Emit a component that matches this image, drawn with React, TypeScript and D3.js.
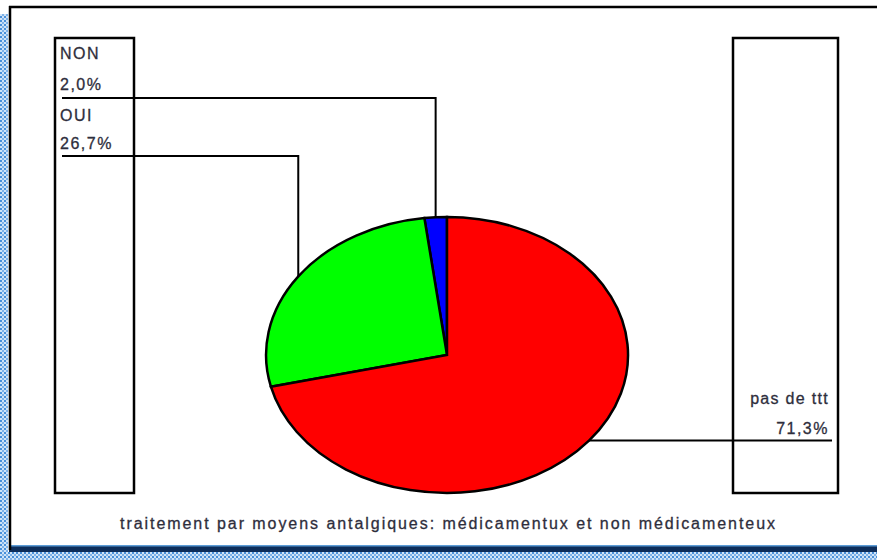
import * as d3 from 'd3';
import React from 'react';

// slice data, counter-clockwise from 12 o'clock
const labels = ['NON', 'OUI', 'pas de ttt'];
const values = [2.0, 26.7, 71.3];
const valueLabels = ['2,0%', '26,7%', '71,3%'];
const colors = ['#0000ff', '#00ff00', '#ff0000'];
const caption = 'traitement par moyens antalgiques: médicamentux et non médicamenteux';

const W = 877;
const H = 560;
const cx = 447;
const cy = 355;
const rx = 181;
const ry = 138;
const textColor = '#2e2e3c';

interface ISlice {
  label: string;
  value: number;
  text: string;
  color: string;
}

const slices: ISlice[] = labels.map((l, i) => ({ label: l, value: values[i], text: valueLabels[i], color: colors[i] }));

export default function App() {
  const pie = d3
    .pie<ISlice>()
    .sort(null)
    .value((d) => d.value)
    .startAngle(0)
    .endAngle(-2 * Math.PI);

  const arcs = pie(slices);
  const arc = d3.arc<d3.PieArcDatum<ISlice>>().innerRadius(0).outerRadius(1);

  // point on the ellipse at the middle of a slice
  const edge = (a: d3.PieArcDatum<ISlice>) => {
    const m = (a.startAngle + a.endAngle) / 2;
    return [cx + rx * Math.sin(m), cy - ry * Math.cos(m)];
  };

  const [nonX, nonY] = edge(arcs[0]);
  const [ouiX, ouiY] = edge(arcs[1]);
  const [redX, redY] = edge(arcs[2]);

  const font = {
    fontFamily: "'Liberation Sans', Arial, sans-serif",
    fontSize: 16,
    fill: textColor,
    stroke: textColor,
    strokeWidth: 0.3,
  };

  return (
    <svg width={W} height={H} style={{ position: 'absolute', left: 0, top: 0 }}>
      <defs>
        <pattern id="dots" width="4" height="4" patternUnits="userSpaceOnUse">
          <rect width="4" height="4" fill="#cfe3f7" />
          <rect width="2" height="2" fill="#4a90d9" />
          <rect x="2" y="2" width="2" height="2" fill="#7fb2e8" />
        </pattern>
      </defs>
      <rect width={W} height={H} fill="#fff" />
      {/* frame */}
      <rect x={0} y={14} width={8} height={H - 14} fill="url(#dots)" />
      <rect x={0} y={552} width={W} height={8} fill="url(#dots)" />
      <rect x={9} y={546} width={W - 9} height={6} fill="#0d2d5a" />
      <rect x={9} y={545} width={W - 9} height={1.5} fill="#5b9bd5" />
      <line x1={9} y1={7} x2={W} y2={7} stroke="#000" strokeWidth={2.5} />
      <line x1={10} y1={6} x2={10} y2={550} stroke="#000" strokeWidth={2.5} />

      {/* label boxes */}
      <rect x={55} y={38} width={79} height={455} fill="none" stroke="#000" strokeWidth={2.5} />
      <rect x={733} y={38} width={105} height={455} fill="none" stroke="#000" strokeWidth={2.5} />

      {/* pie */}
      <g transform={`translate(${cx},${cy}) scale(${rx},${ry})`}>
        {arcs.map((a, i) => (
          <path key={i} d={arc(a) as string} fill={a.data.color} stroke="#000" strokeWidth={2.5} vectorEffect="non-scaling-stroke" />
        ))}
      </g>

      {/* leader lines */}
      <polyline points={`62,98 ${nonX},98 ${nonX},${nonY}`} fill="none" stroke="#000" strokeWidth={2} />
      <polyline points={`62,156 ${ouiX},156 ${ouiX},${ouiY}`} fill="none" stroke="#000" strokeWidth={2} />
      <line x1={redX} y1={redY} x2={832} y2={redY} stroke="#000" strokeWidth={2} />

      {/* labels */}
      <text x={60} y={59} {...font} letterSpacing={1.5}>{arcs[0].data.label}</text>
      <text x={60} y={90} {...font} letterSpacing={1.5}>{arcs[0].data.text}</text>
      <text x={60} y={121} {...font} letterSpacing={1.5}>{arcs[1].data.label}</text>
      <text x={60} y={149} {...font} letterSpacing={1.5}>{arcs[1].data.text}</text>
      <text x={829} y={404} {...font} textAnchor="end" letterSpacing={1.3}>{arcs[2].data.label}</text>
      <text x={829} y={434} {...font} textAnchor="end" letterSpacing={1.5}>{arcs[2].data.text}</text>

      <text x={120} y={529} {...font} textLength={655} lengthAdjust="spacing">{caption}</text>
    </svg>
  );
}
